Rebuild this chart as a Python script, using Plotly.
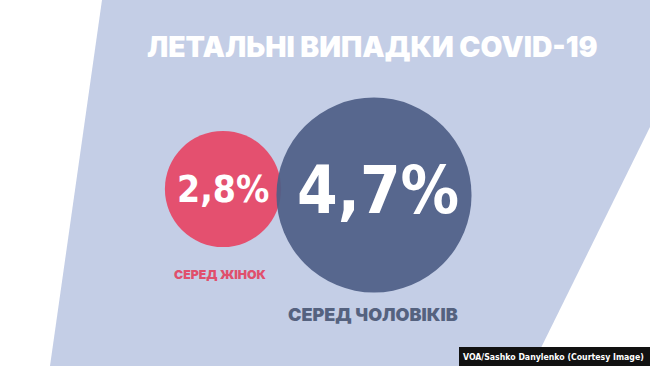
import plotly.graph_objects as go

# ---- data ----
groups = ["СЕРЕД ЖІНОК", "СЕРЕД ЧОЛОВІКІВ"]
values = [2.8, 4.7]
value_labels = ["2,8%", "4,7%"]
title_text = "ЛЕТАЛЬНІ ВИПАДКИ COVID-19"
credit_text = "VOA/Sashko Danylenko (Courtesy Image)"

# ---- layout / style ----
W, H = 650, 366
circle_x = [223, 374]
circle_y = [189, 195]
colors = ["#e4506f", "#4f5f86"]
opac = [1.0, 0.93]
label_colors = ["#e0506d", "#55627f"]
px_per_unit = 41.5  # marker diameter per percentage point
value_font_sizes = [37, 65]
value_offsets = [(0, 0), (4, -5)]
label_pos = [(220, 274), (373, 314)]
label_sizes = [12.3, 18]
cond_font = "DejaVu Sans Condensed, DejaVu Sans"

fig = go.Figure()

for i in range(len(values)):
    fig.add_trace(go.Scatter(
        x=[circle_x[i]], y=[circle_y[i]], mode="markers",
        marker=dict(size=values[i] * px_per_unit, color=colors[i],
                    opacity=opac[i], line=dict(width=0)),
        hoverinfo="skip", showlegend=False))

shapes = [
    dict(type="path", path=f"M 102 0 L {W} 0 L {W} 127 L 532 {H} L 50 {H} Z",
         xref="x", yref="y", fillcolor="#c4cee6", line=dict(width=0), layer="below"),
    dict(type="rect", x0=459, x1=W, y0=347, y1=H, xref="x", yref="y",
         fillcolor="#111111", line=dict(width=0), layer="above"),
]

annotations = [
    dict(x=372, y=47, text=title_text, showarrow=False, xref="x", yref="y",
         font=dict(family="Inter", size=28.3, color="white", weight=900)),
    dict(x=646, y=356.5, text=credit_text, showarrow=False, xref="x", yref="y",
         xanchor="right",
         font=dict(family=cond_font, size=8.7, color="white", weight=700)),
]
for i in range(len(values)):
    annotations.append(dict(
        x=circle_x[i] + value_offsets[i][0], y=circle_y[i] + value_offsets[i][1],
        text=value_labels[i], showarrow=False,
        xref="x", yref="y",
        font=dict(family=cond_font, size=value_font_sizes[i],
                  color="white", weight=700)))
    annotations.append(dict(
        x=label_pos[i][0], y=label_pos[i][1], text=groups[i], showarrow=False,
        xref="x", yref="y",
        font=dict(family="Inter", size=label_sizes[i], color=label_colors[i], weight=900)))

fig.update_layout(
    width=W, height=H, margin=dict(l=0, r=0, t=0, b=0),
    paper_bgcolor="white", plot_bgcolor="white",
    xaxis=dict(range=[0, W], visible=False, fixedrange=True),
    yaxis=dict(range=[H, 0], visible=False, fixedrange=True),
    shapes=shapes, annotations=annotations,
)

fig.write_html("out.html", config={"displayModeBar": False})
